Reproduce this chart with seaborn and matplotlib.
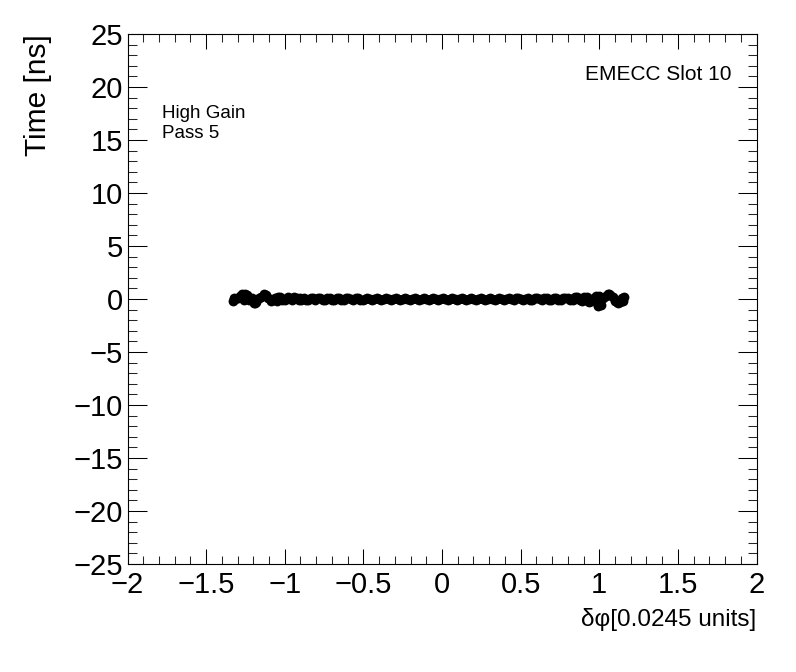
import numpy as np
import pandas as pd
import matplotlib
matplotlib.use("Agg")
import matplotlib.pyplot as plt
import seaborn as sns
from matplotlib.ticker import MultipleLocator

# ----------------------------
# Daten
# ----------------------------
phi = [-1.33, -1.30, -1.27, -1.24, -1.21, -1.18, -1.15, -1.12, -1.09, -1.06,
       -1.03, -1.00, -0.97, -0.94, -0.91, -0.88, -0.85, -0.82, -0.79, -0.76,
       -0.73, -0.70, -0.67, -0.64, -0.61, -0.58, -0.55, -0.52, -0.49, -0.46,
       -0.43, -0.40, -0.37, -0.34, -0.31, -0.28, -0.25, -0.22, -0.19, -0.16,
       -0.13, -0.10, -0.07, -0.04, -0.01, 0.02, 0.05, 0.08, 0.11, 0.14,
       0.17, 0.20, 0.23, 0.26, 0.29, 0.32, 0.35, 0.38, 0.41, 0.44,
       0.47, 0.50, 0.53, 0.56, 0.59, 0.62, 0.65, 0.68, 0.71, 0.74,
       0.77, 0.80, 0.83, 0.86, 0.89, 0.92, 0.95, 0.98, 1.01, 1.04,
       1.07, 1.10, 1.13, 1.16,
       # zusaetzliche Kanaele an den Raendern
       -1.32, -1.26, -1.19, -1.13, -1.05, -0.98, -0.90, 0.84, 0.93, 0.99,
       1.00, 1.06, 1.12, 1.15]
time = [-0.15, 0.05, 0.45, 0.35, 0.10, -0.30, 0.20, 0.35, -0.15, 0.10,
        0.20, -0.10, 0.05, 0.15, -0.05, 0.10, -0.10, 0.05, 0.08, -0.05,
        0.05, -0.05, 0.06, -0.05, 0.05, -0.03, 0.05, -0.05, 0.03, -0.03,
        0.04, -0.04, 0.03, -0.03, 0.02, -0.03, 0.03, -0.02, 0.03, -0.03,
        0.02, -0.02, 0.03, -0.03, 0.02, -0.02, 0.03, -0.03, 0.02, -0.02,
        0.03, -0.03, 0.02, -0.03, 0.03, -0.02, 0.04, -0.03, 0.03, -0.04,
        0.05, -0.03, 0.04, -0.05, 0.06, -0.04, 0.05, -0.06, 0.07, -0.05,
        0.06, 0.08, -0.10, 0.15, -0.15, 0.20, -0.20, 0.25, -0.55, 0.30,
        0.40, -0.20, -0.30, 0.15,
        0.10, -0.10, -0.40, 0.45, -0.15, 0.15, 0.12, 0.10, -0.20, -0.65,
        0.30, 0.45, -0.35, -0.15]

# Kanaele zwischen den obigen
phi_mid = [-1.315, -1.285, -1.255, -1.225, -1.195, -1.165, -1.135, -1.105,
           -1.075, -1.045, -1.015, -0.985, -0.955, -0.925, -0.895, -0.865,
           -0.835, -0.805, -0.775, -0.745, -0.715, -0.685, -0.655, -0.625,
           -0.595, -0.565, -0.535, -0.505, -0.475, -0.445, -0.415, -0.385,
           -0.355, -0.325, -0.295, -0.265, -0.235, -0.205, -0.175, -0.145,
           -0.115, -0.085, -0.055, -0.025, 0.005, 0.035, 0.065, 0.095,
           0.125, 0.155, 0.185, 0.215, 0.245, 0.275, 0.305, 0.335,
           0.365, 0.395, 0.425, 0.455, 0.485, 0.515, 0.545, 0.575,
           0.605, 0.635, 0.665, 0.695, 0.725, 0.755, 0.785, 0.815,
           0.845, 0.875, 0.905, 0.935, 0.965, 0.995, 1.025, 1.055,
           1.085, 1.115, 1.145]
time_mid = [0.00, 0.30, 0.50, -0.10, -0.35, 0.05, 0.40, 0.10,
            -0.10, 0.15, -0.05, 0.12, -0.08, 0.10, -0.08, -0.06,
            0.06, -0.06, 0.05, -0.05, 0.05, -0.05, 0.05, -0.05,
            0.05, -0.05, 0.05, -0.05, 0.05, -0.05, 0.05, -0.05,
            0.05, -0.05, 0.05, -0.05, 0.05, -0.05, 0.05, -0.05,
            0.05, -0.05, 0.05, -0.05, 0.05, -0.05, 0.05, -0.05,
            0.05, -0.05, 0.05, -0.05, 0.05, -0.05, 0.05, -0.05,
            0.05, -0.05, 0.05, -0.05, 0.05, -0.05, 0.05, -0.05,
            0.06, -0.06, 0.06, -0.06, 0.07, -0.07, 0.08, -0.12,
            0.15, -0.10, 0.18, -0.25, 0.10, -0.60, 0.05, 0.45,
            0.20, -0.30, 0.05]

x_ticks = [-2, -1.5, -1, -0.5, 0, 0.5, 1, 1.5, 2]
x_tick_labels = ["\u22122", "\u22121.5", "\u22121", "\u22120.5", "0", "0.5", "1", "1.5", "2"]
y_ticks = [-25, -20, -15, -10, -5, 0, 5, 10, 15, 20, 25]
y_tick_labels = ["\u221225", "\u221220", "\u221215", "\u221210", "\u22125", "0",
                 "5", "10", "15", "20", "25"]

df = pd.DataFrame({"phi": phi + phi_mid, "time": time + time_mid})

# ----------------------------
# Stil
# ----------------------------
sns.set_theme(style="white")
plt.rcParams["font.family"] = ["Liberation Sans", "DejaVu Sans"]

fig = plt.figure(figsize=(7.96, 6.72), dpi=100)
ax = fig.add_axes([0.1602, 0.1607, 0.7902, 0.7887])

sns.scatterplot(data=df, x="phi", y="time", ax=ax, color="black",
                s=50, linewidth=0, marker="o")

ax.set_xlim(-2, 2)
ax.set_ylim(-25, 25)

ax.set_xticks(x_ticks)
ax.set_xticklabels(x_tick_labels)
ax.set_yticks(y_ticks)
ax.set_yticklabels(y_tick_labels)
ax.xaxis.set_minor_locator(MultipleLocator(0.1))
ax.yaxis.set_minor_locator(MultipleLocator(1))

ax.tick_params(axis="x", which="major", direction="in", length=10.8, width=0.75,
               top=True, bottom=True, labelsize=21, pad=5, colors="black")
ax.tick_params(axis="x", which="minor", direction="in", length=5.8, width=0.75,
               top=True, bottom=True)
ax.tick_params(axis="y", which="major", direction="in", length=13.7, width=0.75,
               left=True, right=True, labelsize=21, pad=3.5, colors="black")
ax.tick_params(axis="y", which="minor", direction="in", length=6.5, width=0.75,
               left=True, right=True)

for sp in ax.spines.values():
    sp.set_color("black")
    sp.set_linewidth(0.8)

ax.set_xlabel("\u03b4\u03c6[0.0245 units]", fontsize=17.5, loc="right", color="black")
ax.xaxis.set_label_coords(1.0, -0.083)
ax.set_ylabel("Time [ns]", fontsize=21.5, loc="top", color="black")
ax.yaxis.set_label_coords(-0.12, 1.0)

ax.text(0.0544, 0.842, "High Gain", transform=ax.transAxes, fontsize=13.5,
        va="baseline", ha="left", color="black")
ax.text(0.0544, 0.803, "Pass 5", transform=ax.transAxes, fontsize=13.5,
        va="baseline", ha="left", color="black")
ax.text(0.9606, 0.913, "EMECC Slot 10", transform=ax.transAxes, fontsize=15,
        va="baseline", ha="right", color="black")

fig.savefig("out.png", dpi=100)
